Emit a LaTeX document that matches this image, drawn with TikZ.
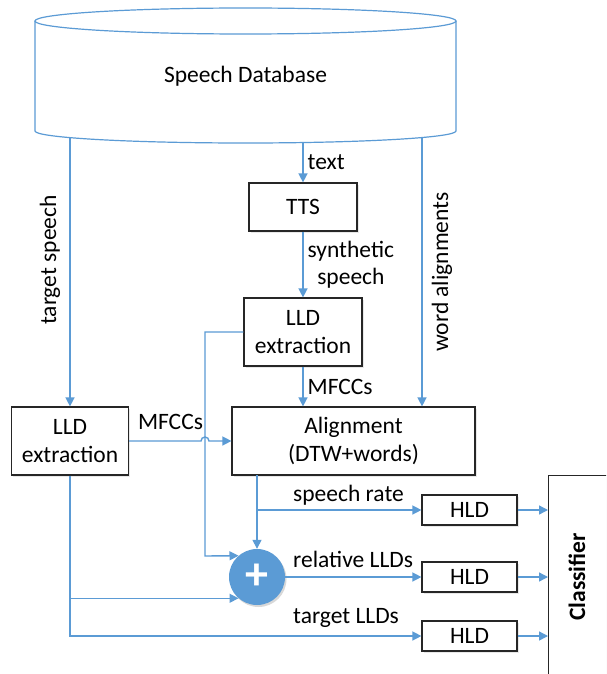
\documentclass[tikz,border=0pt]{standalone}
\usepackage{fontspec}
\setmainfont{Carlito}
\usetikzlibrary{arrows.meta,shadows,calc}
\definecolor{ofblue}{HTML}{5B9BD5}
\definecolor{boxline}{HTML}{262626}
\begin{document}
\begin{tikzpicture}[x=1pt,y=-1pt,
  lab/.style={font=\fontsize{23.5}{27}\selectfont, inner sep=0pt},
  box/.style={draw=boxline, line width=1.2pt, fill=white, font=\fontsize{23.5}{28}\selectfont,
    align=center, inner sep=0pt,
    drop shadow={opacity=0.18, shadow xshift=1.5pt, shadow yshift=-1.5pt}},
  conn/.style={draw=ofblue, line width=1.4pt},
  arr/.style={conn, -{Triangle[length=9pt,width=9pt]}},
]
\clip (0,0) rectangle (606,674);
\fill[white] (0,0) rectangle (606,674);

% database cylinder
\draw[ofblue, line width=1.2pt, fill=white] (35,21) -- (35,131)
  arc[start angle=180, end angle=360, x radius=210.5pt, y radius=12pt] -- (456,21);
\draw[ofblue, line width=1.2pt] (245.5,21) ellipse[x radius=210.5pt, y radius=13pt];
\node[lab] (db) at (245.5,76) {Speech Database};
\coordinate (dbL) at (70,137.6);
\coordinate (dbM) at (303,142.5);
\coordinate (dbR) at (422,137.5);

% boxes
\node[box, minimum width=108pt, minimum height=48pt] (tts) at (303,207) {TTS};
\node[box, minimum width=118pt, minimum height=68pt] (lldM) at (303,332) {LLD\\extraction};
\node[box, minimum width=117pt, minimum height=68pt] (lldL) at (70,441) {LLD\\extraction};
\node[box, minimum width=243pt, minimum height=68pt] (align) at (353.5,441) {Alignment\\(DTW+words)};
\node[box, minimum width=95pt, minimum height=30pt] (hld1) at (469.5,510) {HLD};
\node[box, minimum width=95pt, minimum height=30pt] (hld2) at (469.5,577) {HLD};
\node[box, minimum width=95pt, minimum height=30pt] (hld3) at (469.5,636) {HLD};
\node[box, minimum width=100pt, minimum height=260pt, anchor=north west] (clf) at (548,475) {};
\node[lab, font=\fontsize{23.5}{27}\selectfont\bfseries, rotate=90] (clft) at (577,577) {Classifier};
\node[circle, fill=ofblue, minimum size=56pt, inner sep=0pt, text=white,
  font=\fontsize{46}{46}\selectfont\bfseries,
  drop shadow={opacity=0.3, shadow xshift=1.5pt, shadow yshift=-2pt}] (plus) at (257,577) {+};

% connectors from database
\draw[arr] (dbL) -- (dbL |- lldL.north);
\node[lab, rotate=90] (tsl) at (50,260) {target speech};
\draw[arr] (dbM) -- (tts.north) node[lab, midway, right=4pt] {text};
\draw[arr] (tts.south) -- (lldM.north) node[lab, midway, right=4pt, align=center] {synthetic\\speech};
\draw[arr] (dbR) -- (dbR |- align.north);
\node[lab, rotate=90] (wal) at (442,272) {word alignments};

% MFCCs
\draw[arr] (lldM.south) -- (lldM.south |- align.north) node[lab, midway, right=4pt] {MFCCs};
\coordinate (c1) at (205,556);
\draw[arr] (lldL.east) -- ($(c1 |- lldL.east)+(-4,0)$)
  arc[start angle=180, end angle=0, radius=4pt] -- (align.west);
\node[lab] (mf) at (170.5,422) {MFCCs};
\draw[arr] (lldM.west) -| (c1) -- (plus.131);

% alignment outputs
\coordinate (aout) at (257,475);
\draw[arr] (aout) -- (plus.north);
\draw[arr] (aout |- hld1.west) -- (hld1.west);
\node[lab, anchor=west] (sr) at (293,495) {speech rate};
\draw[arr] (plus.east) -- (hld2.west);
\node[lab, anchor=west] (rl) at (293,559) {relative LLDs};
\draw[arr] (lldL.south) |- (hld3.west);
\draw[arr] (lldL.south |- plus.229) -- (plus.229);
\node[lab, anchor=west] (tl) at (293,618) {target LLDs};

% to classifier
\draw[arr] (hld1.east) -- (hld1.east -| clf.west);
\draw[arr] (hld2.east) -- (hld2.east -| clf.west);
\draw[arr] (hld3.east) -- (hld3.east -| clf.west);
\end{tikzpicture}
\end{document}
